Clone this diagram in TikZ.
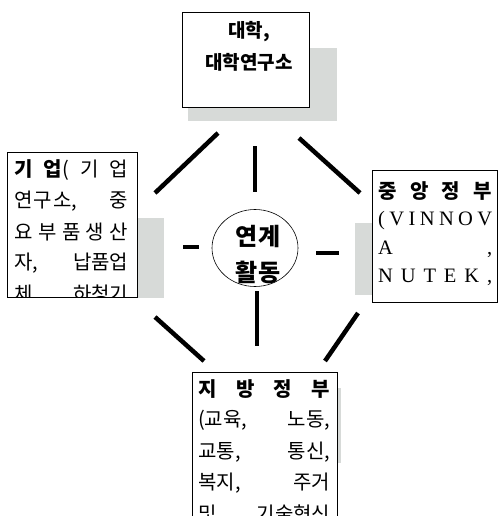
\documentclass[tikz,border=0pt]{standalone}
\usepackage{fontspec}
\usetikzlibrary{shapes.geometric}
\setmainfont{Liberation Serif}
\newfontfamily\kr{Noto Sans CJK KR}
\definecolor{shadowgray}{RGB}{215,218,216}
\tikzset{
  px/.style={x={1pt},y={-1pt}},
  shadowbox/.style={fill=shadowgray,draw=none},
  textbox/.style={fill=white,draw=black,line width=0.8pt},
  krline/.style={anchor=west,inner sep=0pt,font=\kr\fontsize{20}{20}\selectfont},
  latline/.style={anchor=west,inner sep=0pt,font=\fontsize{20.5}{20.5}\selectfont},
  headline/.style={anchor=center,inner sep=0pt,font=\kr\bfseries\fontsize{19}{19}\selectfont},
  centertext/.style={anchor=center,inner sep=0pt,font=\kr\bfseries\fontsize{24}{24}\selectfont},
  stroke/.style={line width=4.5pt,black},
}
\newcommand\spr[2]{\makebox[#1pt][s]{#2}}
\begin{document}
\begin{tikzpicture}[px]
\useasboundingbox (0,0) rectangle (498,516);
% shadows
\fill[shadowgray] (188,48) rectangle (337,121);
\fill[shadowgray] (120,218) rectangle (164,298);
\fill[shadowgray] (355,223) rectangle (390,295);
\fill[shadowgray] (320,388) rectangle (341,463);
% top box
\draw[textbox] (182,12) rectangle (309,107);
\node[headline] (t1) at (249,32) {대학,};
\node[headline] (t2) at (249,62) {대학연구소};
% left box
\draw[textbox] (7,152) rectangle (137,297);
\begin{scope}
\clip (7,152) rectangle (137,297);
\node[krline] (l1) at (14,170) {\spr{114}{\bfseries 기\hfill 업\mdseries(\hfill 기\hfill 업}};
\node[krline] (l2) at (14,201) {\spr{114}{연\kern1pt 구\kern1pt 소,\hfill 중}};
\node[krline] (l3) at (14,232) {\spr{114}{요\hfill 부\hfill 품\hfill 생\hfill 산}};
\node[krline] (l4) at (14,263) {\spr{114}{자,\hfill 납품업}};
\node[krline] (l5) at (14,294) {\spr{114}{체\hfill 하청기}};
\end{scope}
% right box
\draw[textbox] (372,170) rectangle (497,302);
\begin{scope}
\clip (372,170) rectangle (497,302);
\node[krline] (r1) at (378,191) {\spr{114}{\bfseries 중\hfill 앙\hfill 정\hfill 부}};
\node[latline] (r2) at (378,221) {\spr{114}{(\hfill V\hfill I\hfill N\hfill N\hfill O\hfill V}};
\node[latline] (r3) at (378,249) {\spr{114}{A\hfill ,}};
\node[latline] (r4) at (378,277) {\spr{114}{N\hfill U\hfill T\hfill E\hfill K\hfill ,}};
\end{scope}
% bottom box
\fill[white] (192,372) rectangle (337,517);
\draw[line width=0.8pt] (192,517) -- (192,372) -- (337,372) -- (337,517);
\begin{scope}
\clip (192,372) rectangle (337,516);
\node[krline] (b1) at (198,389) {\spr{132}{\bfseries 지\hfill 방\hfill 정\hfill 부}};
\node[krline] (b2) at (198,420) {\spr{132}{(교육,\hfill 노동,}};
\node[krline] (b3) at (198,452) {\spr{132}{교통,\hfill 통신,}};
\node[krline] (b4) at (198,483) {\spr{132}{복지,\hfill 주거}};
\node[krline] (b5) at (198,514) {\spr{132}{및\hfill 기술혁신}};
\end{scope}
% center
\node[draw,ellipse,minimum width=86pt,minimum height=77pt,line width=0.6pt] (c) at (255,248) {};
\node[centertext] (c1) at (258,236) {연계};
\node[centertext] (c2) at (258,272) {활동};
% strokes
\coordinate (a1) at (155,193); \coordinate (a2) at (218,133);
\coordinate (b1s) at (255,146); \coordinate (b2s) at (255,192);
\coordinate (d1) at (299,138); \coordinate (d2) at (360,193);
\coordinate (e1) at (183,247); \coordinate (e2) at (199,247);
\coordinate (f1) at (316,253); \coordinate (f2) at (339,253);
\coordinate (g1) at (257,291); \coordinate (g2) at (257,346);
\coordinate (h1) at (155,317); \coordinate (h2) at (204,361);
\coordinate (k1) at (358,313); \coordinate (k2) at (325,361);
\draw[stroke] (a1) -- (a2);
\draw[stroke] (b1s) -- (b2s);
\draw[stroke] (d1) -- (d2);
\draw[stroke] (e1) -- (e2);
\draw[stroke] (f1) -- (f2);
\draw[stroke] (g1) -- (g2);
\draw[stroke] (h1) -- (h2);
\draw[stroke] (k1) -- (k2);
\end{tikzpicture}
\end{document}
